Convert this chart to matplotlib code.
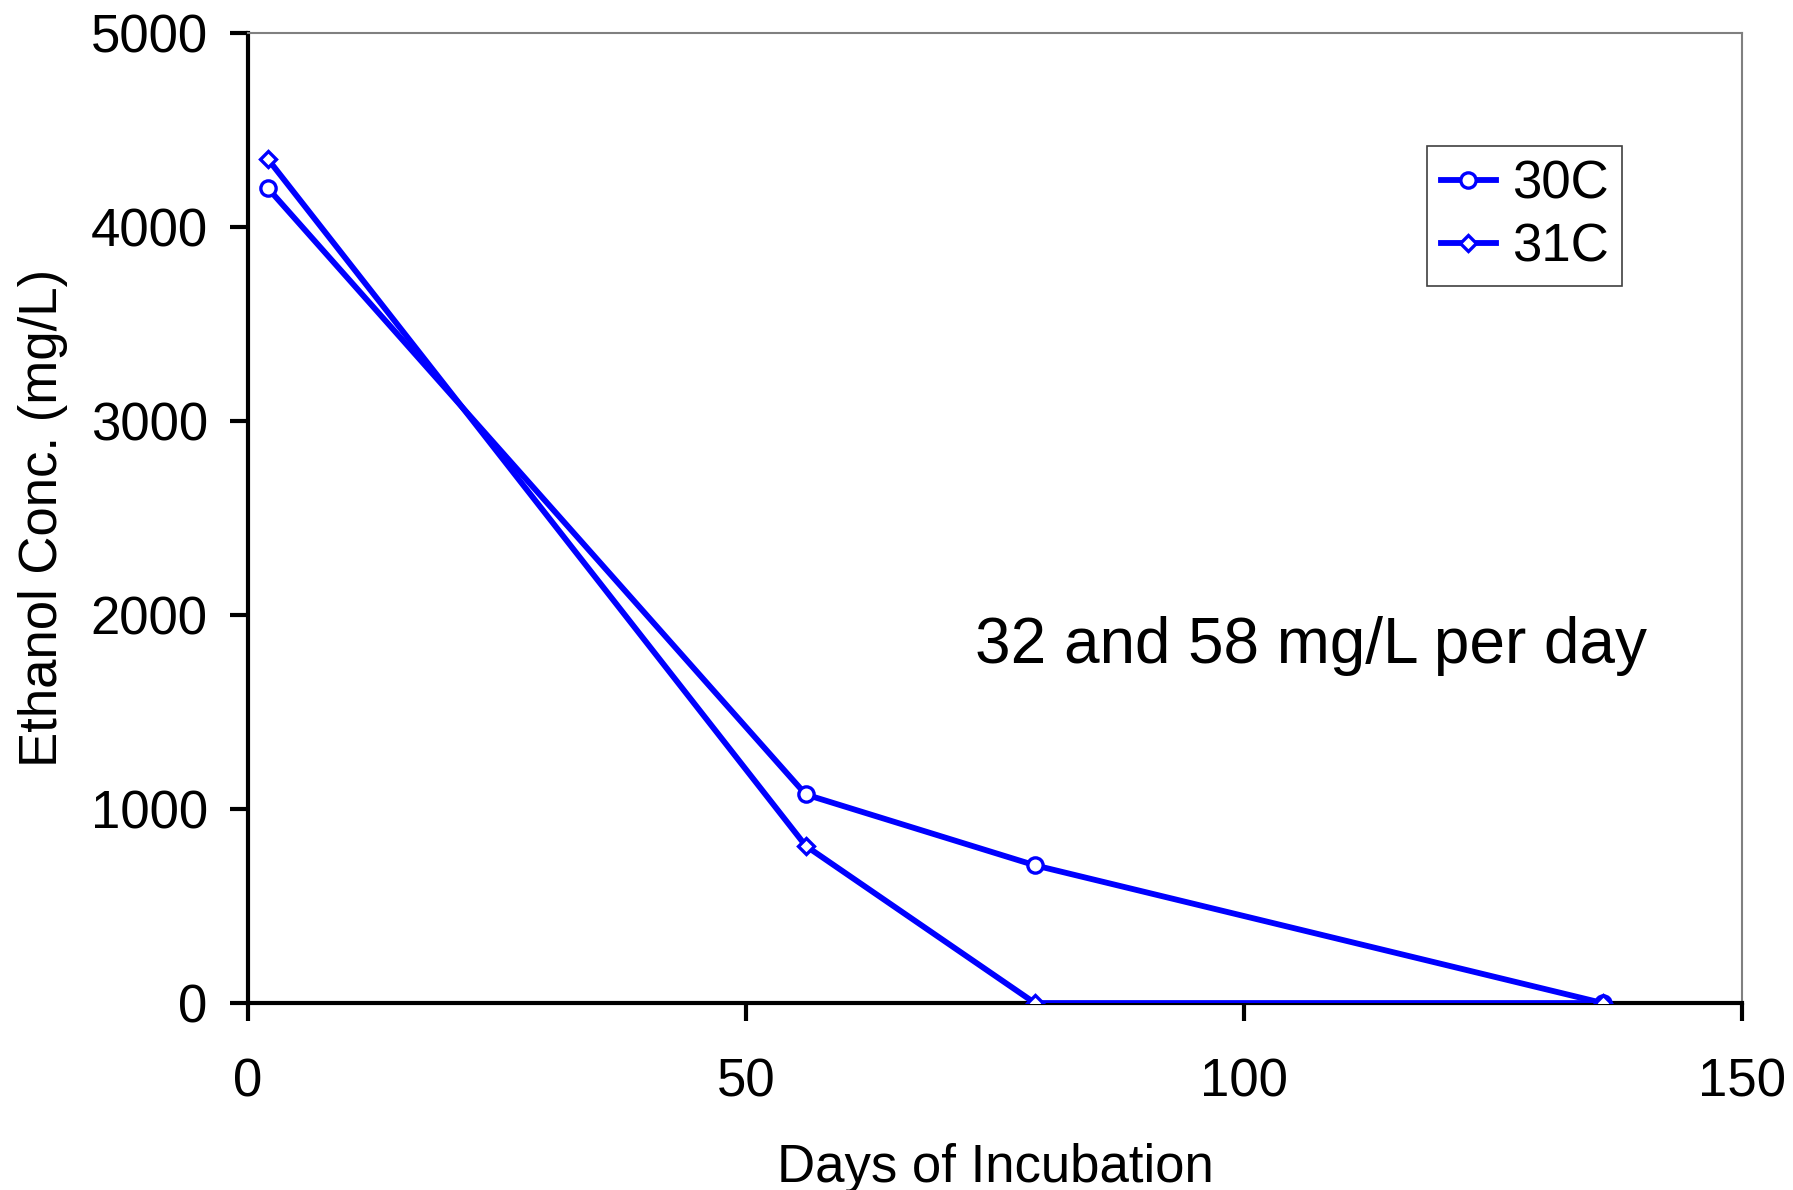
import matplotlib
matplotlib.use("Agg")
import matplotlib.pyplot as plt

plt.rcParams['font.family'] = ['Liberation Sans', 'DejaVu Sans']

days_30c = [2, 56, 79, 136]
conc_30c = [4200, 1075, 710, 0]

days_31c = [2, 56, 79, 136]
conc_31c = [4350, 810, 0, 0]

x_ticks = [0, 50, 100, 150]
y_ticks = [0, 1000, 2000, 3000, 4000, 5000]

fig = plt.figure(figsize=(17.93, 11.90), dpi=100)
ax = fig.add_axes([0.1383, 0.1571, 0.8333, 0.8152])

ax.plot(days_30c, conc_30c, color="#0000ff", lw=4.2, marker="o",
        markersize=11, markerfacecolor="white", markeredgewidth=2.4,
        label="30C", zorder=3)
ax.plot(days_31c, conc_31c, color="#0000ff", lw=4.2, marker="D",
        markersize=8.5, markerfacecolor="white", markeredgewidth=2.4,
        label="31C", zorder=3)

ax.set_xlim(0, 150)
ax.set_ylim(0, 5000)
ax.set_xticks(x_ticks)
ax.set_yticks(y_ticks)

ax.tick_params(axis="both", direction="out", length=13, width=3,
               labelsize=38)
ax.tick_params(axis="x", pad=26)
ax.tick_params(axis="y", pad=16)

for side in ["left", "bottom"]:
    ax.spines[side].set_linewidth(3)
    ax.spines[side].set_color("black")
for side in ["top", "right"]:
    ax.spines[side].set_linewidth(1.5)
    ax.spines[side].set_color("#808080")

ax.set_xlabel("Days of Incubation", fontsize=38, labelpad=26)
ax.set_ylabel("Ethanol Conc. (mg/L)", fontsize=38, labelpad=16)

ax.text(73, 1751, "32 and 58 mg/L per day", fontsize=46,
        ha="left", va="baseline")

leg = ax.legend(loc="upper right", bbox_to_anchor=(0.9195, 0.883),
                fontsize=38, fancybox=False, framealpha=1,
                edgecolor="#404040", handlelength=1.05, handletextpad=0.3,
                borderpad=0.25, labelspacing=0.25, borderaxespad=0)
leg.get_frame().set_linewidth(1.2)

fig.savefig("out.png", dpi=100)
